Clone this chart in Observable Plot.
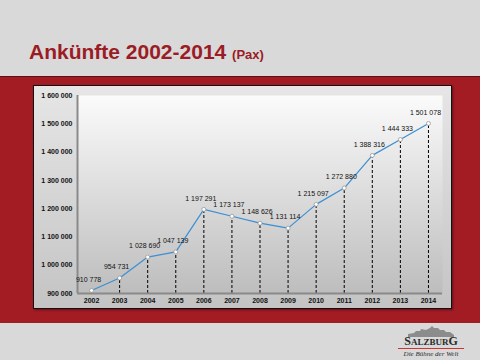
<!DOCTYPE html>
<html><head><meta charset="utf-8">
<script src="https://cdn.jsdelivr.net/npm/d3@7"></script>
<script src="https://cdn.jsdelivr.net/npm/@observablehq/plot@0.6"></script>
<style>
html,body{margin:0;padding:0;width:480px;height:360px;overflow:hidden;background:#d9d9d9;font-family:"Liberation Sans",Arial,sans-serif;}
#title{position:absolute;left:29px;top:40px;color:#9b1c24;font-weight:bold;font-size:21px;white-space:nowrap;}
#title span{font-size:13px;}
#band{position:absolute;left:0;top:76px;width:480px;height:246px;background:#a31b23;border-top:1px solid #5a1015;}
#frame{position:absolute;left:33px;top:85px;width:417px;height:222px;border:1px solid #111;background:linear-gradient(#e6e6e6,#c4c4c4);box-shadow:1px 1px 2px rgba(0,0,0,.4);}
#frame svg{position:absolute;left:0;top:0;}
#logo{position:absolute;left:398px;top:326px;width:66px;text-align:center;color:#2a2a2a;font-family:"Liberation Serif",serif;}
#logo svg{display:block;margin:0 auto;}
#logo .a{font-size:9px;font-weight:bold;line-height:11px;border-bottom:1px solid #c33;margin-top:-1px;white-space:nowrap;}
#logo .a b{font-size:12px;}
#logo .b{font-size:7px;font-style:italic;margin-top:1px;white-space:nowrap;}
</style></head>
<body>
<div id="title">Ankünfte 2002-2014 <span>(Pax)</span></div>
<div id="band"></div>
<div id="frame"></div>
<div id="logo">
<svg width="46" height="11" viewBox="0 0 46 11"><path d="M0 11 L0 8 L6 7 L8 5 L12 5 L13 3 L18 4 L22 2 L24 0 L26 2 L30 2 L32 4 L36 4 L38 6 L42 6 L46 9 L46 11 Z" fill="#8c8c8c"/></svg>
<div class="a"><b>S</b>ALZBUR<b>G</b></div><div class="b">Die Bühne der Welt</div></div>
<script>
const years = [2002,2003,2004,2005,2006,2007,2008,2009,2010,2011,2012,2013,2014];
const arrivals = [910778,954731,1028690,1047139,1197291,1173137,1148626,1131114,1215097,1272880,1388316,1444333,1501078];
const yTicks = [900000,1000000,1100000,1200000,1300000,1400000,1500000,1600000];

const data = years.map((y,i)=>({year:y, value:arrivals[i]}));
const fmt = v => d3.format(",")(v).replace(/,/g," ");

const chart = Plot.plot({
  width: 417, height: 222,
  marginLeft: 43, marginTop: 9, marginRight: 9, marginBottom: 15,
  style: {fontFamily: "'Liberation Sans', Arial, sans-serif", fontSize: "7px", background: "transparent", color:"#111"},
  x: {domain: [2001.5, 2014.5], ticks: years, tickFormat: "d", tickSize: 0, tickPadding: 5, label: null},
  y: {domain: [900000, 1600000], ticks: yTicks, tickFormat: fmt, tickSize: 0, tickPadding: 5, label: null},
  marks: [
    Plot.frame({fill: "url(#pg)", stroke: null}),
    Plot.ruleX(data, {x: "year", y1: 900000, y2: "value", stroke: "#000", strokeDasharray: "3,2", strokeWidth: 1}),
    Plot.ruleX([2001.5], {stroke: "#8a8a8a", strokeWidth: 2}),
    Plot.ruleY([900000], {stroke: "#8a8a8a", strokeWidth: 2}),
    Plot.line(data, {x: "year", y: "value", stroke: "#3b8fd3", strokeWidth: 1.2}),
    Plot.dot(data, {x: "year", y: "value", r: 2, fill: "#fff", stroke: "#999", strokeWidth: 0.8}),
    Plot.text(data, {x: "year", y: "value", text: d => fmt(d.value), dy: -11, dx: -3, fill: "#111", fontSize: 7}),
    Plot.axisX({ticks: years, tickFormat: "d", tickSize: 0, tickPadding: 5, fontWeight: "bold"}),
    Plot.axisY({ticks: yTicks, tickFormat: fmt, tickSize: 0, tickPadding: 5, fontWeight: "bold"})
  ]
});
const svg = d3.select(chart);
const defs = svg.insert("defs", ":first-child");
const g = defs.append("linearGradient").attr("id","pg").attr("x1",0).attr("y1",0).attr("x2",0).attr("y2",1);
g.append("stop").attr("offset","0%").attr("stop-color","#fbfbfb");
g.append("stop").attr("offset","100%").attr("stop-color","#bdbdbd");
document.getElementById("frame").appendChild(chart);
</script>
</body></html>
